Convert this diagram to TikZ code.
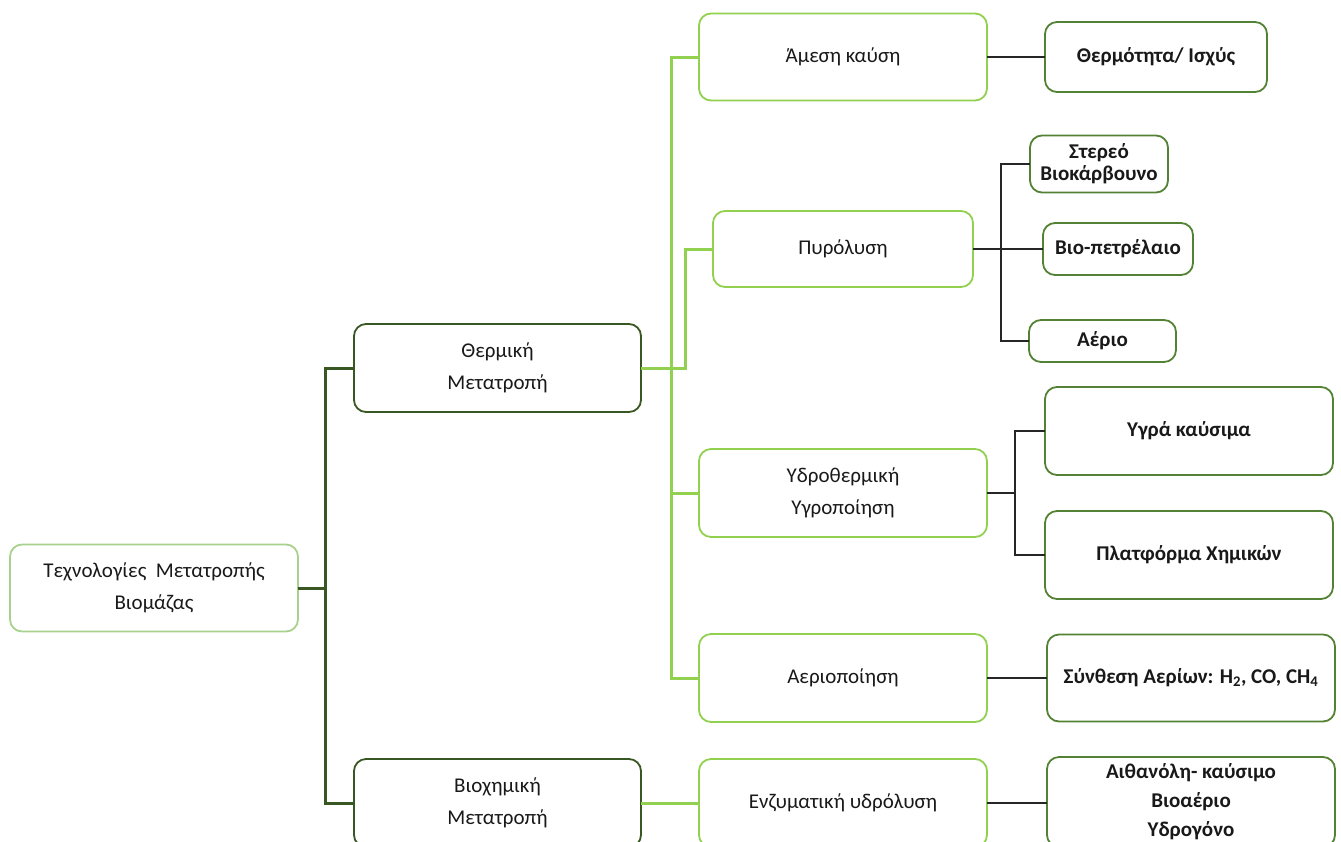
\documentclass[tikz,border=0pt]{standalone}
\usepackage{fontspec}
\setmainfont{Carlito}
\usetikzlibrary{positioning}

\definecolor{darkgreen}{HTML}{385723}
\definecolor{midgreen}{HTML}{548235}
\definecolor{lightgreen}{HTML}{92D050}
\definecolor{palegreen}{HTML}{A9D18E}
\definecolor{linkgray}{HTML}{262626}

\begin{document}
\begin{tikzpicture}[x=1pt,y=-1pt,font=\fontsize{21}{32}\selectfont]
	  \tikzstyle{box}=[draw,fill=white,rounded corners=12pt,line width=1.8pt,align=center,inner sep=0pt,outer sep=0pt,text=black!90]
	  \tikzstyle{root}=[box,draw=palegreen]
	  \tikzstyle{method}=[box,draw=darkgreen]
	  \tikzstyle{process}=[box,draw=lightgreen]
	  \tikzstyle{product}=[box,draw=midgreen,font=\fontsize{21}{32}\selectfont\bfseries]
	  \tikzstyle{trunk}=[draw=darkgreen,line width=3pt]
	  \tikzstyle{branch}=[draw=lightgreen,line width=3pt]
	  \tikzstyle{leaf}=[draw=linkgray,line width=1.8pt]

	  \useasboundingbox (0,0) rectangle (1341,841);

	  % root and the two methods
	  \node[root,minimum width=288pt,minimum height=87pt] (R) at (154,588) {Τεχνολογίες\ \ Μετατροπής\\Βιομάζας};
	  \node[method,minimum width=287pt,minimum height=88pt] (TH) at (497.5,368) {Θερμική\\Μετατροπή};
	  \node[method,minimum width=287pt,minimum height=88pt] (BX) [below=347pt of TH] {Βιοχημική\\Μετατροπή};

	  % processes
	  \node[process,minimum width=288pt,minimum height=87pt] (AK) at (843,57) {Άμεση καύση};
	  \node[process,minimum width=260pt,minimum height=76pt] (PY) at (843,249) {Πυρόλυση};
	  \node[process,minimum width=288pt,minimum height=88pt] (YY) at (843,493) {Υδροθερμική\\Υγροποίηση};
	  \node[process,minimum width=288pt,minimum height=88pt] (AE) [below=97pt of YY] {Αεριοποίηση};
	  \node[process,minimum width=288pt,minimum height=88pt] (EY) at (843,803) {Ενζυματική υδρόλυση};

	  % products
	  \node[product,minimum width=222pt,minimum height=70pt] (TI) at (1156,57) {Θερμότητα/ Ισχύς};
	  \node[product,minimum width=138pt,minimum height=57pt,font=\fontsize{21}{22}\selectfont\bfseries] (SB) at (1099,164) {Στερεό\\Βιοκάρβουνο};
	  \node[product,minimum width=150pt,minimum height=52pt] (BP) at (1118,249) {Βιο-πετρέλαιο};
	  \node[product,minimum width=147pt,minimum height=42pt] (AR) at (1102.5,341) {Αέριο};
	  \node[product,minimum width=288pt,minimum height=88pt] (YK) at (1189,431) {Υγρά καύσιμα};
	  \node[product,minimum width=288pt,minimum height=88pt] (PX) [below=36pt of YK] {Πλατφόρμα Χημικών};
	  \node[product,minimum width=288pt,minimum height=87pt] (SA) at (1191,678) {Σύνθεση Αερίων: H\textsubscript{2}, CO, CH\textsubscript{4}};
	  \node[product,minimum width=288pt,minimum height=90pt,font=\fontsize{21}{29}\selectfont\bfseries] (AI) at (1191,802) {Αιθανόλη- καύσιμο\\Βιοαέριο\\Υδρογόνο};

	  % connectors
	  \draw[trunk] (R.east) -- ++(27,0);
	  \draw[trunk] (TH.west) -- ++(-29,0) |- (BX.west);
	  \draw[branch] (AK.west) -- ++(-28,0) |- (AE.west);
	  \draw[branch] (YY.west) -- ++(-28,0);
	  \draw[branch] (TH.east) -- ++(44,0) |- (PY.west);
	  \draw[branch] (BX.east) -- (EY.west);
	  \draw[leaf] (AK.east) -- (TI.west);
	  \draw[leaf] (PY.east) -- (BP.west);
	  \draw[leaf] (SB.west) -- ++(-29,0) |- (AR.west);
	  \draw[leaf] (YY.east) -- ++(28,0);
	  \draw[leaf] (YK.west) -- ++(-30,0) |- (PX.west);
	  \draw[leaf] (AE.east) -- (SA.west);
	  \draw[leaf] (EY.east) -- (EY.east -| AI.west);
	\end{tikzpicture}
\end{document}
